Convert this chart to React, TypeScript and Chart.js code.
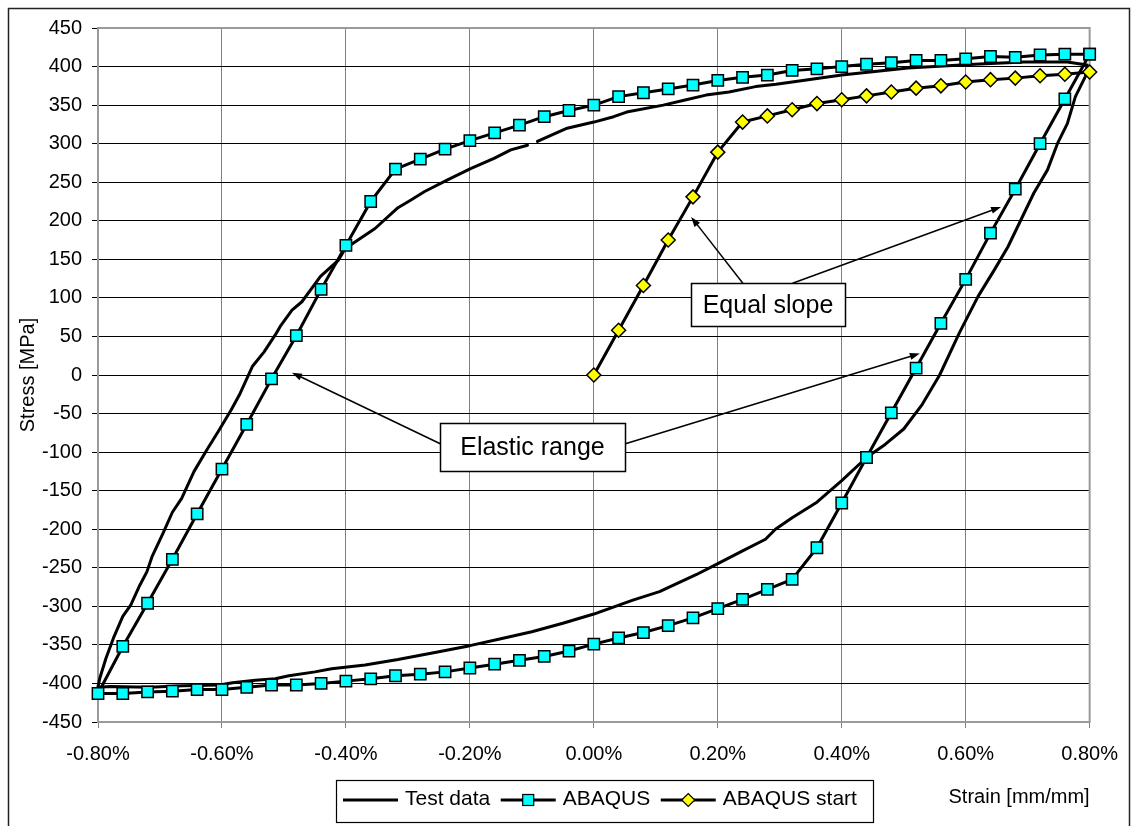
import React, { useEffect, useRef } from 'react';
import { Chart, registerables } from 'chart.js';

Chart.register(...registerables);

const FONT = '"Liberation Sans", Arial, Helvetica, sans-serif';

// ---------------- data (strain in %, stress in MPa) ----------------
const testStrain = [
  -0.8, -0.797, -0.787, -0.775, -0.76, -0.747, -0.734, -0.721, -0.713, -0.695,
  -0.68, -0.665, -0.645, -0.625, -0.605, -0.585, -0.572, -0.551, -0.532, -0.514,
  -0.506, -0.487, -0.471, -0.441, -0.412, -0.401, -0.353, -0.316, -0.295, -0.273,
  -0.236, -0.198, -0.161, -0.134, -0.107, -0.099, -0.091, -0.043, 0.0, 0.032,
  0.053, 0.112, 0.149, 0.181, 0.218, 0.261, 0.294, 0.32, 0.4, 0.507,
  0.614, 0.694, 0.764, 0.796, 0.793, 0.777, 0.764, 0.748, 0.732, 0.71,
  0.689, 0.668, 0.646, 0.62, 0.59, 0.558, 0.53, 0.5, 0.47, 0.44,
  0.4, 0.36, 0.32, 0.293, 0.277, 0.24, 0.197, 0.165, 0.106, 0.063,
  0.0, -0.05, -0.1, -0.15, -0.2, -0.25, -0.316, -0.369, -0.423, -0.45,
  -0.492, -0.514, -0.546, -0.583, -0.604, -0.663, -0.717, -0.78, -0.8,
];
const testStress: (number | null)[] = [
  -404, -393, -367, -341, -313, -298, -275, -255, -236, -205,
  -178, -160, -125, -98, -72, -45, -26, 11, 30, 52,
  63, 84, 95, 128, 149, 164, 190, 217, 227, 238,
  253, 268, 281, 292, 298, null, 303, 320, 328, 335,
  341, 350, 357, 363, 367, 374, 377, 380, 389, 398,
  403, 406, 406, 402, 387, 361, 326, 300, 266, 236,
  201, 166, 136, 102, 55, 0, -38, -70, -90, -107,
  -137, -165, -185, -200, -213, -228, -246, -259, -281, -292,
  -310, -322, -333, -342, -351, -359, -369, -376, -381, -385,
  -390, -394, -396, -399, -402, -403, -405, -404, -405,
];

const abaqusStrain = [
  0.8, 0.76, 0.72, 0.68, 0.64, 0.6, 0.56, 0.52, 0.48, 0.44,
  0.4, 0.36, 0.32, 0.28, 0.24, 0.2, 0.16, 0.12, 0.08, 0.04,
  0.0, -0.04, -0.08, -0.12, -0.16, -0.2, -0.24, -0.28, -0.32, -0.36,
  -0.4, -0.44, -0.48, -0.52, -0.56, -0.6, -0.64, -0.68, -0.72, -0.76,
  -0.8,
  -0.76, -0.72, -0.68, -0.64, -0.6, -0.56, -0.52, -0.48, -0.44, -0.4,
  -0.36, -0.32, -0.28, -0.24, -0.2, -0.16, -0.12, -0.08, -0.04, 0.0,
  0.04, 0.08, 0.12, 0.16, 0.2, 0.24, 0.28, 0.32, 0.36, 0.4,
  0.44, 0.48, 0.52, 0.56, 0.6, 0.64, 0.68, 0.72, 0.76, 0.8,
];
const abaqusStress = [
  416, 358, 300, 241, 184, 124, 67, 9, -49, -107,
  -166, -224, -265, -278, -291, -303, -315, -325, -334, -341,
  -349, -358, -365, -370, -375, -380, -385, -388, -390, -394,
  -397, -400, -402, -402, -405, -408, -408, -410, -411, -413,
  -413,
  -352, -296, -239, -180, -122, -64, -5, 51, 111, 168,
  225, 267, 280, 293, 304, 314, 324, 335, 343, 350,
  361, 366, 371, 376, 382, 386, 389, 395, 397, 400,
  403, 405, 408, 408, 410, 413, 412, 415, 416, 416,
];

const startStrain = [
  0.0, 0.04, 0.08, 0.12, 0.16, 0.2, 0.24, 0.28, 0.32, 0.36,
  0.4, 0.44, 0.48, 0.52, 0.56, 0.6, 0.64, 0.68, 0.72, 0.76, 0.8,
];
const startStress = [
  0, 58, 116, 175, 231, 289, 328, 336, 344, 352,
  357, 362, 367, 372, 375, 380, 383, 385, 388, 390, 393,
];

const seriesLabels = ['Test data', 'ABAQUS', 'ABAQUS start'];

const xTickValues = [-0.8, -0.6, -0.4, -0.2, 0, 0.2, 0.4, 0.6, 0.8];
const yTickValues = [
  -450, -400, -350, -300, -250, -200, -150, -100, -50, 0,
  50, 100, 150, 200, 250, 300, 350, 400, 450,
];

const xAxisTitle = 'Strain [mm/mm]';
const yAxisTitle = 'Stress [MPa]';

// annotations (anchors in data coordinates)
const annotationTexts = ['Equal slope', 'Elastic range'];
const annotationX = [0.281, -0.099];
const annotationY = [91, -93];
const arrowFromX = [0.2405, 0.3206, -0.2469, 0.0497];
const arrowFromY = [119, 119, -89.5, -89.5];
const arrowToX = [0.157, 0.657, -0.487, 0.526];
const arrowToY = [205, 218, 3, 28];

// ---------------- styles ----------------
const annotationBox = [
  { w: 154, h: 43 },
  { w: 185, h: 48 },
];

const toPoints = (xs: number[], ys: (number | null)[]) =>
  xs.map((x, i) => ({ x, y: ys[i] }));

const pageFrame = {
  id: 'pageFrame',
  beforeDraw(chart: any) {
    const ctx = chart.ctx;
    ctx.save();
    ctx.fillStyle = '#ffffff';
    ctx.fillRect(0, 0, chart.width, chart.height);
    ctx.strokeStyle = '#222';
    ctx.lineWidth = 1.5;
    ctx.strokeRect(8.5, 8.5, 1121, 840);
    ctx.restore();
  },
  beforeDatasetsDraw(chart: any) {
    const ctx = chart.ctx;
    const { left, top, right, bottom } = chart.chartArea;
    ctx.save();
    ctx.strokeStyle = '#9a9a9a';
    ctx.lineWidth = 2;
    ctx.strokeRect(left, top, right - left, bottom - top);
    ctx.restore();
  },
};

function drawArrow(ctx: CanvasRenderingContext2D, x1: number, y1: number, x2: number, y2: number) {
  const a = Math.atan2(y2 - y1, x2 - x1);
  const L = 10;
  const W = 3.5;
  ctx.beginPath();
  ctx.moveTo(x1, y1);
  ctx.lineTo(x2 - Math.cos(a) * L * 0.6, y2 - Math.sin(a) * L * 0.6);
  ctx.stroke();
  ctx.beginPath();
  ctx.moveTo(x2, y2);
  ctx.lineTo(x2 - Math.cos(a) * L - Math.sin(a) * W, y2 - Math.sin(a) * L + Math.cos(a) * W);
  ctx.lineTo(x2 - Math.cos(a) * L + Math.sin(a) * W, y2 - Math.sin(a) * L - Math.cos(a) * W);
  ctx.closePath();
  ctx.fill();
}

const annotations = {
  id: 'annotations',
  afterDatasetsDraw(chart: any) {
    const ctx = chart.ctx as CanvasRenderingContext2D;
    const xs = chart.scales.x;
    const ys = chart.scales.y;
    ctx.save();
    ctx.strokeStyle = '#000';
    ctx.fillStyle = '#000';
    ctx.lineWidth = 1.5;
    for (let i = 0; i < arrowFromX.length; i++) {
      drawArrow(
        ctx,
        xs.getPixelForValue(arrowFromX[i]),
        ys.getPixelForValue(arrowFromY[i]),
        xs.getPixelForValue(arrowToX[i]),
        ys.getPixelForValue(arrowToY[i])
      );
    }
    for (let i = 0; i < annotationTexts.length; i++) {
      const cx = xs.getPixelForValue(annotationX[i]);
      const cy = ys.getPixelForValue(annotationY[i]);
      const { w, h } = annotationBox[i];
      const bx = Math.round(cx - w / 2) + 0.5;
      const by = Math.round(cy - h / 2) + 0.5;
      ctx.fillStyle = '#fff';
      ctx.fillRect(bx, by, w, h);
      ctx.strokeStyle = '#000';
      ctx.lineWidth = 1.5;
      ctx.strokeRect(bx, by, w, h);
      ctx.fillStyle = '#000';
      ctx.font = `25px ${FONT}`;
      ctx.textAlign = 'center';
      ctx.textBaseline = 'middle';
      ctx.fillText(annotationTexts[i], cx, cy + 1);
    }
    ctx.restore();
  },
};

const excelLegend = {
  id: 'excelLegend',
  afterDraw(chart: any) {
    const ctx = chart.ctx as CanvasRenderingContext2D;
    ctx.save();
    const boxX = 336.5, boxY = 780.5, boxW = 537, boxH = 42;
    ctx.fillStyle = '#fff';
    ctx.fillRect(boxX, boxY, boxW, boxH);
    ctx.strokeStyle = '#000';
    ctx.lineWidth = 1.2;
    ctx.strokeRect(boxX, boxY, boxW, boxH);
    ctx.font = `21px ${FONT}`;
    ctx.textBaseline = 'middle';
    ctx.textAlign = 'left';
    const cy = 800;
    let x = 343;
    chart.data.datasets.forEach((ds: any) => {
      const lineLen = 55;
      ctx.strokeStyle = '#000';
      ctx.lineWidth = 3;
      ctx.beginPath();
      ctx.moveTo(x, cy);
      ctx.lineTo(x + lineLen, cy);
      ctx.stroke();
      const mx = x + lineLen / 2;
      if (ds.pointStyle === 'rect') {
        ctx.fillStyle = ds.pointBackgroundColor;
        ctx.lineWidth = 1.2;
        ctx.fillRect(mx - 5.5, cy - 5.5, 11, 11);
        ctx.strokeRect(mx - 5.5, cy - 5.5, 11, 11);
      } else if (ds.pointStyle === 'rectRot') {
        ctx.fillStyle = ds.pointBackgroundColor;
        ctx.lineWidth = 1.2;
        ctx.beginPath();
        ctx.moveTo(mx - 6.5, cy);
        ctx.lineTo(mx, cy - 6.5);
        ctx.lineTo(mx + 6.5, cy);
        ctx.lineTo(mx, cy + 6.5);
        ctx.closePath();
        ctx.fill();
        ctx.stroke();
      }
      ctx.fillStyle = '#000';
      const tx = x + lineLen + 7;
      ctx.fillText(ds.label, tx, cy - 1);
      x = tx + ctx.measureText(ds.label).width + 10.5;
    });
    ctx.restore();
  },
};

export default function App() {
  const ref = useRef<HTMLCanvasElement>(null);

  useEffect(() => {
    if (!ref.current) return;
    const chart = new Chart(ref.current, {
      type: 'scatter',
      data: {
        datasets: [
          {
            label: seriesLabels[0],
            data: toPoints(testStrain, testStress),
            showLine: true,
            borderColor: '#000',
            borderWidth: 3,
            pointRadius: 0,
            borderJoinStyle: 'round',
            borderCapStyle: 'round',
            order: 3,
            clip: false,
          } as any,
          {
            label: seriesLabels[1],
            data: toPoints(abaqusStrain, abaqusStress),
            showLine: true,
            borderColor: '#000',
            borderWidth: 3,
            pointStyle: 'rect',
            pointRadius: 8,
            pointBackgroundColor: '#00FFFF',
            pointBorderColor: '#000',
            pointBorderWidth: 1.5,
            borderJoinStyle: 'round',
            order: 2,
            clip: false,
          } as any,
          {
            label: seriesLabels[2],
            data: toPoints(startStrain, startStress),
            showLine: true,
            borderColor: '#000',
            borderWidth: 3,
            pointStyle: 'rectRot',
            pointRadius: 7,
            pointBackgroundColor: '#FFFF00',
            pointBorderColor: '#000',
            pointBorderWidth: 1.5,
            borderJoinStyle: 'round',
            order: 1,
            clip: false,
          } as any,
        ],
      },
      options: {
        responsive: false,
        animation: false,
        events: [],
        layout: { padding: { left: 0, top: 28, right: 36, bottom: 0 } },
        elements: { line: { tension: 0 } },
        plugins: {
          legend: { display: false },
          tooltip: { enabled: false },
        },
        scales: {
          x: {
            type: 'linear',
            position: 'bottom',
            min: -0.8,
            max: 0.8,
            afterBuildTicks: (s: any) => {
              s.ticks = xTickValues.map((value) => ({ value }));
            },
            afterFit: (s: any) => {
              s.height = 104;
            },
            ticks: {
              callback: (v: any) => Number(v).toFixed(2) + '%',
              font: { family: FONT, size: 20 },
              color: '#000',
              padding: 14,
              maxRotation: 0,
              autoSkip: false,
            },
            grid: {
              color: '#808080',
              lineWidth: 1,
              tickLength: 6,
              tickColor: '#808080',
            },
            border: { display: false },
            title: {
              display: true,
              text: xAxisTitle,
              align: 'end',
              color: '#000',
              font: { family: FONT, size: 20 },
              padding: { top: 0, bottom: 17 },
            },
          },
          y: {
            type: 'linear',
            min: -450,
            max: 450,
            afterBuildTicks: (s: any) => {
              s.ticks = yTickValues.map((value) => ({ value }));
            },
            afterFit: (s: any) => {
              s.width = 98;
            },
            ticks: {
              font: { family: FONT, size: 20 },
              color: '#000',
              padding: 10,
              autoSkip: false,
            },
            grid: {
              color: '#000',
              lineWidth: 1,
              tickLength: 6,
              tickColor: '#000',
            },
            border: { display: false },
            title: {
              display: true,
              text: yAxisTitle,
              color: '#000',
              font: { family: FONT, size: 20 },
              padding: { top: 16, bottom: 0 },
            },
          },
        },
      } as any,
      plugins: [pageFrame, annotations, excelLegend],
    });
    return () => chart.destroy();
  }, []);

  return (
    <div style={{ position: 'absolute', left: 0, top: 0, width: 1132, height: 826, background: '#fff' }}>
      <canvas ref={ref} width={1132} height={826} style={{ display: 'block', width: 1132, height: 826 }} />
    </div>
  );
}
